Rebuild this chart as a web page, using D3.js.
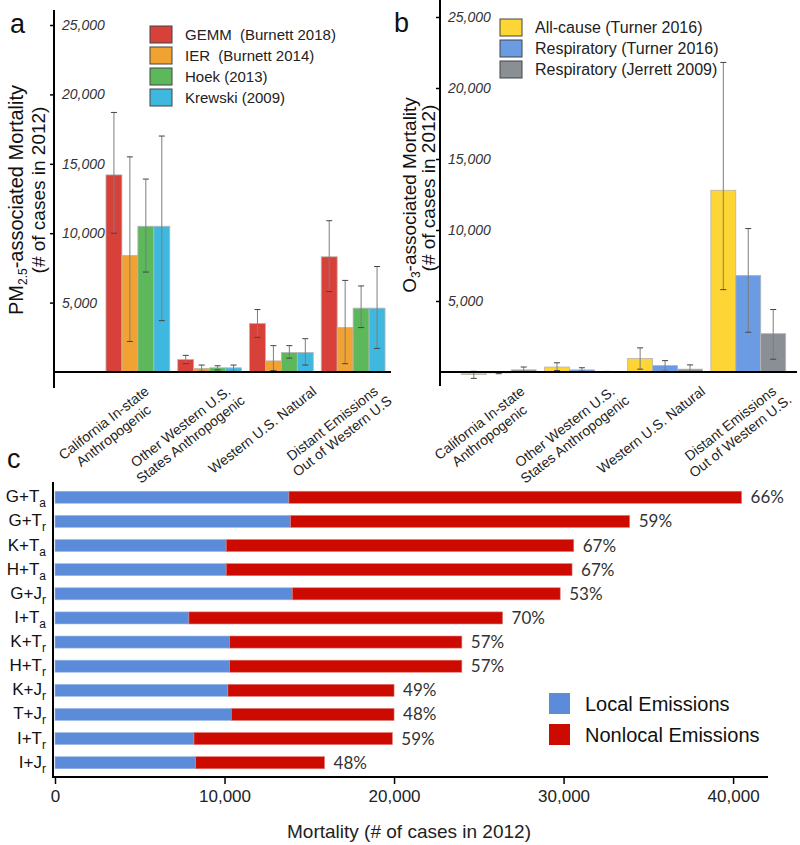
<!DOCTYPE html>
<html><head><meta charset="utf-8">
<script src="https://cdn.jsdelivr.net/npm/d3@7/dist/d3.min.js"></script>
<style>
body{margin:0;background:#fff;}
svg{font-family:"Liberation Sans",Arial,sans-serif;}
</style></head>
<body><svg id="chart" width="800" height="845"></svg>
<script>
// ---------- DATA ----------
const categoriesA = [["California In-state","Anthropogenic"],["Other Western U.S.","States  Anthropogenic"],["Western U.S. Natural"],["Distant Emissions","Out of Western U.S"]];
const categoriesB = [["California In-state","Anthropogenic"],["Other Western U.S.","States  Anthropogenic"],["Western U.S. Natural"],["Distant Emissions","Out of Western U.S."]];
const seriesA = ["GEMM  (Burnett 2018)","IER  (Burnett 2014)","Hoek (2013)","Krewski (2009)"];
const gemm    = [14200, 900, 3500, 8300];
const gemmLo  = [10000, 600, 2500, 5800];
const gemmHi  = [18700, 1200, 4500, 10900];
const ier     = [8400, 250, 800, 3200];
const ierLo   = [2200, 50, 100, 600];
const ierHi   = [15500, 500, 1900, 6600];
const hoek    = [10500, 300, 1400, 4600];
const hoekLo  = [7200, 150, 1000, 3200];
const hoekHi  = [13900, 450, 1900, 6200];
const krew    = [10500, 300, 1400, 4600];
const krewLo  = [3700, 50, 500, 1700];
const krewHi  = [17000, 500, 2400, 7600];

const seriesB = ["All-cause (Turner 2016)","Respiratory (Turner 2016)","Respiratory (Jerrett 2009)"];
const turnerAll   = [-180, 350, 950, 12800];
const turnerAllLo = [-450, 100, 200, 5800];
const turnerAllHi = [50, 650, 1700, 21800];
const turnerResp   = [-60, 150, 450, 6800];
const turnerRespLo = [-120, 50, 50, 2800];
const turnerRespHi = [0, 300, 800, 10100];
const jerrett   = [150, 20, 200, 2700];
const jerrettLo = [0, 0, 0, 900];
const jerrettHi = [350, 40, 500, 4400];

const yTicksAB = [5000, 10000, 15000, 20000, 25000];

const comboBase = ["G","G","K","H","G","I","K","H","K","T","I","I"];
const comboMain = ["T","T","T","T","J","T","T","T","J","J","T","J"];
const comboSub  = ["a","r","a","a","r","a","r","r","r","r","r","r"];
const localEm    = [13800, 13900, 10100, 10100, 14000, 7900, 10300, 10300, 10200, 10400, 8200, 8300];
const nonlocalEm = [26700, 20000, 20500, 20400, 15800, 18500, 13700, 13700, 9800, 9600, 11700, 7600];
const pctLabels  = ["66%","59%","67%","67%","53%","70%","57%","57%","49%","48%","59%","48%"];
const xTicksC = [0, 10000, 20000, 30000, 40000];

// ---------- STYLE / LAYOUT ----------
const colorsA = ["#d8403a","#f0a232","#5cb85a","#3fb8df"];
const colorsB = ["#fdd535","#6b9be3","#8a8f96"];
const svg = d3.select("#chart");
const fmt = d3.format(",");

function barPanel(opt){
  const g = svg.append("g");
  const x0 = d3.scaleBand().domain(d3.range(4)).range(opt.xr).paddingInner(opt.pad).paddingOuter(opt.pad);
  const x1 = d3.scaleBand().domain(d3.range(opt.series.length)).range([0, x0.bandwidth()]);
  const y = d3.scaleLinear().domain([0,25000]).range(opt.yr);
  opt.vals.forEach((arr, s) => {
    g.selectAll(null).data(arr).join("rect")
      .attr("x", (d,i) => x0(i) + x1(s))
      .attr("y", d => Math.min(y(d), y(0)))
      .attr("width", x1.bandwidth())
      .attr("height", d => Math.abs(y(d) - y(0)))
      .attr("fill", opt.colors[s])
      .attr("stroke", "#b5b5b5").attr("stroke-width", 0.8);
  });
  opt.vals.forEach((arr, s) => {
    arr.forEach((d,i) => {
      const cx = x0(i) + x1(s) + x1.bandwidth()/2;
      const lo = opt.lo[s][i], hi = opt.hi[s][i];
      g.append("line").attr("x1",cx).attr("x2",cx).attr("y1",y(lo)).attr("y2",y(hi))
        .attr("stroke","#7d7d7d").attr("stroke-width",1);
      [lo,hi].forEach(v => g.append("line").attr("x1",cx-3).attr("x2",cx+3).attr("y1",y(v)).attr("y2",y(v))
        .attr("stroke","#444").attr("stroke-width",1));
    });
  });
  g.append("line").attr("x1",opt.axisX).attr("x2",opt.baseEnd).attr("y1",y(0)).attr("y2",y(0))
    .attr("stroke","#000").attr("stroke-width",2);
  g.append("line").attr("x1",opt.axisX).attr("x2",opt.axisX).attr("y1",opt.axisTop).attr("y2",opt.axisBot)
    .attr("stroke","#000").attr("stroke-width",2);
  const ax = g.append("g").attr("transform",`translate(${opt.axisX},0)`)
    .call(d3.axisLeft(y).tickValues(yTicksAB).tickSize(4).tickFormat(fmt));
  ax.select(".domain").remove();
  ax.selectAll(".tick line").attr("stroke","#000").attr("stroke-width",1.5);
  ax.selectAll(".tick text").attr("x",8).attr("text-anchor","start")
    .attr("font-size",14).attr("font-style","italic").attr("fill","#333")
    .attr("font-family","Liberation Sans, Arial, sans-serif");
  opt.cats.forEach((lines, i) => {
    const cx = x0(i) + x0.bandwidth()/2 + opt.labOff[i];
    const t = g.append("g").attr("transform",`translate(${cx},${opt.labY}) rotate(-38)`);
    const first = t.append("text").attr("font-size",14).attr("fill","#222").text(lines[0]);
    const len1 = first.node().getComputedTextLength();
    first.attr("text-anchor","middle").attr("x",-len1/2);
    lines.slice(1).forEach((ln, k) => {
      t.append("text").attr("font-size",14).attr("fill","#222").attr("text-anchor","middle")
        .attr("x",-len1/2).attr("y",16*(k+1)).text(ln);
    });
  });
  opt.series.forEach((s, k) => {
    const ly = opt.legY + k*21;
    g.append("rect").attr("x",opt.legX).attr("y",ly).attr("width",22).attr("height",17)
      .attr("fill",opt.colors[k]).attr("stroke","#444").attr("stroke-width",1);
    g.append("text").attr("x",opt.legX+35).attr("y",ly+14).attr("font-size",opt.legFont)
      .attr("fill","#222").style("white-space","pre").text(s);
  });
  return {x0, y};
}

barPanel({
  xr:[98,393], pad:0.111, yr:[372,25], series:seriesA, colors:colorsA,
  vals:[gemm,ier,hoek,krew], lo:[gemmLo,ierLo,hoekLo,krewLo], hi:[gemmHi,ierHi,hoekHi,krewHi],
  axisX:54, axisTop:10, axisBot:388, baseEnd:391, cats:categoriesA, labOff:[12,22,36,26], labY:393,
  legX:150, legY:26, legFont:15
});
barPanel({
  xr:[453,794], pad:0.1, yr:[372,17], series:seriesB, colors:colorsB,
  vals:[turnerAll,turnerResp,jerrett], lo:[turnerAllLo,turnerRespLo,jerrettLo], hi:[turnerAllHi,turnerRespHi,jerrettHi],
  axisX:440, axisTop:0, axisBot:386, baseEnd:797, cats:categoriesB, labOff:[27,34,41,29], labY:393,
  legX:500, legY:19, legFont:16
});

function yTitle(x, y, size, build){
  const t = svg.append("text").attr("transform",`translate(${x},${y}) rotate(-90)`)
    .attr("text-anchor","middle").attr("font-size",size).attr("fill","#111");
  build(t);
}
yTitle(23,200,20, t => { t.append("tspan").text("PM"); t.append("tspan").attr("font-size",12).attr("dy",4).text("2.5");
  t.append("tspan").attr("dy",-4).text("-associated Mortality"); });
yTitle(45,190,19, t => t.text("(# of cases in 2012)"));
yTitle(416,195,19, t => { t.append("tspan").text("O"); t.append("tspan").attr("font-size",12).attr("dy",4).text("3");
  t.append("tspan").attr("dy",-4).text("-associated Mortality"); });
yTitle(435,188,19, t => t.text("(# of cases in 2012)"));

[["a",10,33],["b",394,32],["c",7,468]].forEach(([s,x,y]) =>
  svg.append("text").attr("x",x).attr("y",y).attr("font-size",27).attr("fill","#111").text(s));

// ---------- PANEL C ----------
const rowKeys = d3.range(localEm.length);
const xc = d3.scaleLinear().domain([0,42000]).range([55,767]);
const yc = d3.scaleBand().domain(rowKeys).range([484,776]).paddingInner(0.5).paddingOuter(0.3);
const gc = svg.append("g");
gc.selectAll(".loc").data(rowKeys).join("rect")
  .attr("x", xc(0)).attr("y", i => yc(i)).attr("height", yc.bandwidth())
  .attr("width", i => xc(localEm[i]) - xc(0)).attr("fill","#5b8bd9")
  .attr("stroke","#9fbbe8").attr("stroke-width",0.6);
gc.selectAll(".nl").data(rowKeys).join("rect")
  .attr("x", i => xc(localEm[i])).attr("y", i => yc(i)).attr("height", yc.bandwidth())
  .attr("width", i => xc(localEm[i]+nonlocalEm[i]) - xc(localEm[i])).attr("fill","#cc0a00")
  .attr("stroke","#e07a74").attr("stroke-width",0.6);
gc.selectAll(".pct").data(rowKeys).join("text")
  .attr("x", i => xc(localEm[i]+nonlocalEm[i]) + 9).attr("y", i => yc(i)+yc.bandwidth()/2+6)
  .attr("font-family","Lato, 'Open Sans', sans-serif").attr("font-size",17).attr("fill","#333")
  .text(i => pctLabels[i]);
rowKeys.forEach(i => {
  const t = gc.append("text").attr("x",46).attr("y",yc(i)+yc.bandwidth()/2+5)
    .attr("text-anchor","end").attr("font-size",17).attr("fill","#111");
  t.append("tspan").text(comboBase[i]+"+"+comboMain[i]);
  t.append("tspan").attr("font-size",12).attr("dy",5).text(comboSub[i]);
});
gc.append("line").attr("x1",53).attr("x2",53).attr("y1",482).attr("y2",778).attr("stroke","#000").attr("stroke-width",2);
const axc = gc.append("g").attr("transform","translate(0,777)")
  .call(d3.axisBottom(xc).tickValues(xTicksC).tickSize(7).tickFormat(fmt));
axc.select(".domain").attr("d","M53,0H768").attr("stroke","#000").attr("stroke-width",2);
axc.selectAll(".tick line").attr("stroke","#000").attr("stroke-width",1.5);
axc.selectAll(".tick text").attr("y",13).attr("font-size",17).attr("fill","#222")
  .attr("font-family","Liberation Sans, Arial, sans-serif");
gc.append("text").attr("x",409).attr("y",838).attr("text-anchor","middle").attr("font-size",19)
  .attr("fill","#222").text("Mortality (# of cases in 2012)");
[["Local Emissions","#5b8bd9"],["Nonlocal Emissions","#cc0a00"]].forEach(([s,c],k) => {
  gc.append("rect").attr("x",549).attr("y",693+k*31).attr("width",21).attr("height",21).attr("fill",c);
  gc.append("text").attr("x",585).attr("y",711+k*31).attr("font-size",20).attr("fill","#111").text(s);
});
</script></body></html>
